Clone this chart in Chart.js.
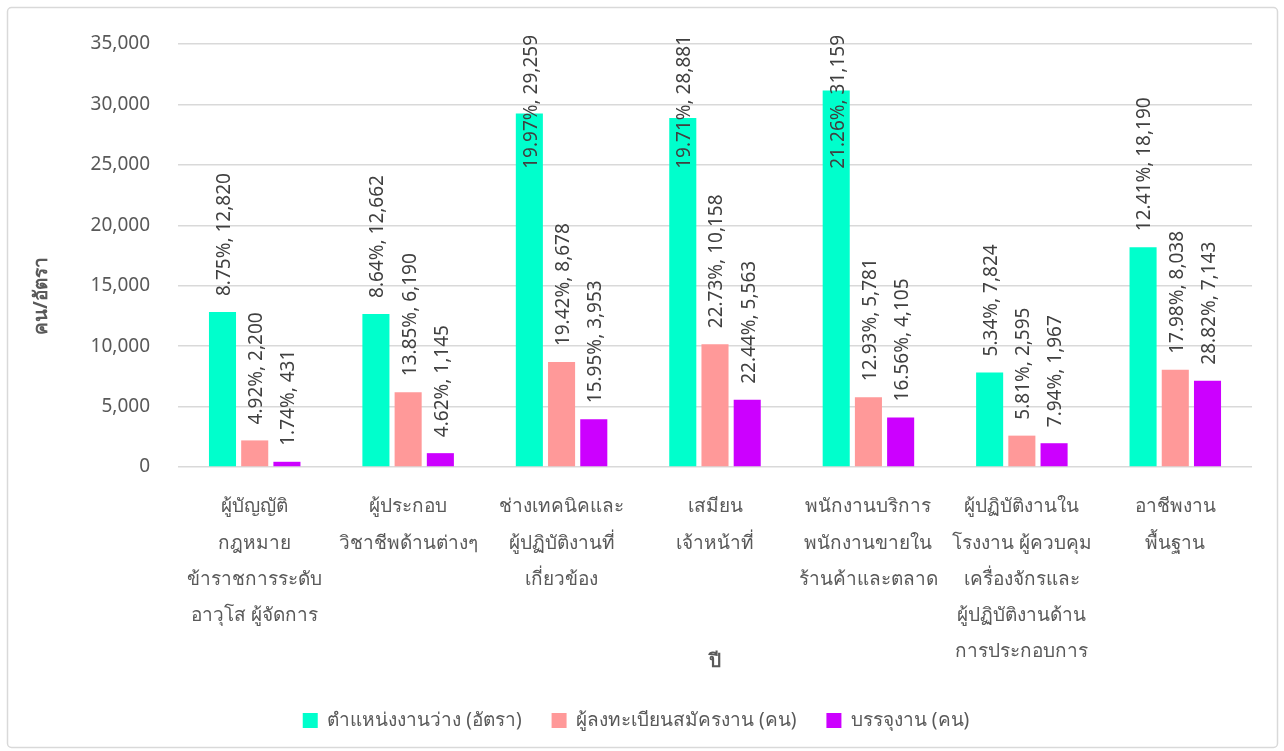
<!DOCTYPE html>
<html>
<head>
<meta charset="utf-8">
<script src="https://cdn.jsdelivr.net/npm/chart.js@4.4.0/dist/chart.umd.min.js"></script>
<style>
  html, body { margin: 0; padding: 0; background: #fff; }
  #wrap { width: 1284px; height: 751px; position: relative; }
</style>
</head>
<body>
<div id="wrap"><canvas id="jobChart" width="1284" height="751"></canvas></div>
<script>
// ข้อมูลตำแหน่งงาน
const categories = [
  ["ผู้บัญญัติ", "กฎหมาย", "ข้าราชการระดับ", "อาวุโส ผู้จัดการ"],
  ["ผู้ประกอบ", "วิชาชีพด้านต่างๆ"],
  ["ช่างเทคนิคและ", "ผู้ปฏิบัติงานที่", "เกี่ยวข้อง"],
  ["เสมียน", "เจ้าหน้าที่"],
  ["พนักงานบริการ", "พนักงานขายใน", "ร้านค้าและตลาด"],
  ["ผู้ปฏิบัติงานใน", "โรงงาน ผู้ควบคุม", "เครื่องจักรและ", "ผู้ปฏิบัติงานด้าน", "การประกอบการ"],
  ["อาชีพงาน", "พื้นฐาน"],
];
const vacancies = [12820, 12662, 29259, 28881, 31159, 7824, 18190];
const vacancyPct = [8.75, 8.64, 19.97, 19.71, 21.26, 5.34, 12.41];
const applicants = [2200, 6190, 8678, 10158, 5781, 2595, 8038];
const applicantPct = [4.92, 13.85, 19.42, 22.73, 12.93, 5.81, 17.98];
const placed = [431, 1145, 3953, 5563, 4105, 1967, 7143];
const placedPct = [1.74, 4.62, 15.95, 22.44, 16.56, 7.94, 28.82];
const yTicks = [0, 5000, 10000, 15000, 20000, 25000, 30000, 35000];

const FONT = "'Noto Sans', 'Open Sans', sans-serif";
const TEXT = "#595959";

// กรอบของแผนภูมิ และชื่อแกน y
const framePlugin = {
  id: "frame",
  beforeDraw(chart) {
    const ctx = chart.ctx;
    ctx.save();
    ctx.strokeStyle = "#d9d9d9";
    ctx.lineWidth = 1.5;
    ctx.beginPath();
    ctx.roundRect(7.5, 7.5, 1270, 740, 4);
    ctx.stroke();
    // ชื่อแกน y
    ctx.translate(42, 296);
    ctx.rotate(-Math.PI / 2);
    ctx.font = "bold 19px " + FONT;
    ctx.fillStyle = TEXT;
    ctx.textAlign = "center";
    ctx.textBaseline = "middle";
    ctx.fillText("คน/อัตรา", 0, 0);
    ctx.restore();
  },
};

// ป้ายข้อมูลแนวตั้ง
const labelPlugin = {
  id: "barLabels",
  afterDatasetsDraw(chart) {
    const ctx = chart.ctx;
    const top = chart.chartArea.top;
    ctx.save();
    ctx.font = "19px " + FONT;
    ctx.fillStyle = "#404040";
    ctx.textAlign = "left";
    ctx.textBaseline = "middle";
    chart.data.datasets.forEach((ds, i) => {
      const meta = chart.getDatasetMeta(i);
      meta.data.forEach((bar, j) => {
        const text = ds.pct[j].toFixed(2) + "%, " + ds.data[j].toLocaleString("en-US");
        const w = ctx.measureText(text).width;
        let y0 = bar.y - 16;
        if (y0 - w < top - 9) y0 = top - 9 + w;
        ctx.save();
        ctx.translate(bar.x + 2, y0);
        ctx.rotate(-Math.PI / 2);
        ctx.fillText(text, 0, 0);
        ctx.restore();
      });
    });
    ctx.restore();
  },
};

new Chart(document.getElementById("jobChart"), {
  type: "bar",
  data: {
    labels: categories,
    datasets: [
      { label: "ตำแหน่งงานว่าง (อัตรา)", data: vacancies, pct: vacancyPct, backgroundColor: "#00ffcc" },
      { label: "ผู้ลงทะเบียนสมัครงาน (คน)", data: applicants, pct: applicantPct, backgroundColor: "#ff9999" },
      { label: "บรรจุงาน (คน)", data: placed, pct: placedPct, backgroundColor: "#cc00ff" },
    ],
  },
  options: {
    responsive: false,
    animation: false,
    layout: { padding: { left: 20, right: 32, top: 44, bottom: 11 } },
    datasets: { bar: { categoryPercentage: 0.63, barPercentage: 0.84 } },
    plugins: {
      legend: {
        position: "bottom",
        labels: {
          font: { family: FONT, size: 19 },
          color: TEXT,
          boxWidth: 15,
          boxHeight: 15,
          padding: 30,
        },
      },
      tooltip: { enabled: false },
    },
    scales: {
      x: {
        grid: { display: false },
        border: { display: false },
        ticks: {
          font: { family: FONT, size: 19, lineHeight: 1.9 },
          color: TEXT,
          maxRotation: 0,
          autoSkip: false,
          padding: 14,
        },
        title: {
          display: true,
          text: "ปี",
          font: { family: FONT, size: 19, weight: "bold" },
          color: TEXT,
          padding: { top: 0, bottom: 8 },
        },
        afterFit(scale) { scale.height = 214; },
      },
      y: {
        min: 0,
        max: 35000,
        afterBuildTicks(scale) { scale.ticks = yTicks.map((v) => ({ value: v })); },
        grid: { color: "#d9d9d9", lineWidth: 1.5, drawTicks: false },
        border: { display: false },
        ticks: {
          font: { family: FONT, size: 19 },
          color: TEXT,
          padding: 28,
          callback: (v) => v.toLocaleString("en-US"),
        },
        afterFit(scale) { scale.width = 158; },
      },
    },
  },
  plugins: [framePlugin, labelPlugin],
});
</script>
</body>
</html>
